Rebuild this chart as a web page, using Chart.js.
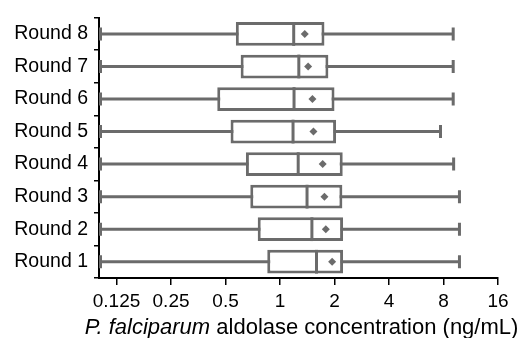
<!DOCTYPE html>
<html>
<head>
<meta charset="utf-8">
<script src="https://cdn.jsdelivr.net/npm/chart.js@4/dist/chart.umd.min.js"></script>
<style>
  body { margin: 0; background: #fff; }
  #box { width: 524px; height: 338px; }
</style>
</head>
<body>
<div id="box"><canvas id="MyChart" width="524" height="338"></canvas></div>
<script>
// data (ng/mL)
const rounds = ["Round 1", "Round 2", "Round 3", "Round 4", "Round 5", "Round 6", "Round 7", "Round 8"];
const mins = [0.1, 0.1, 0.1, 0.1, 0.1, 0.1, 0.1, 0.1];
const q1s = [0.85, 0.753, 0.685, 0.648, 0.533, 0.45, 0.606, 0.57];
const medians = [1.59, 1.5, 1.41, 1.26, 1.18, 1.195, 1.27, 1.19];
const q3s = [2.23, 2.23, 2.21, 2.22, 2.04, 2.0, 1.85, 1.76];
const maxs = [9.8, 9.8, 9.8, 9.1, 7.7, 9.05, 9.05, 9.05];
const means = [1.94, 1.79, 1.76, 1.72, 1.53, 1.51, 1.43, 1.37];
const xTicks = [0.125, 0.25, 0.5, 1, 2, 4, 8, 16];

const GREY = "#6b6b6b";
const FONT = "'Liberation Sans', Arial, sans-serif";

// whiskers under the boxes, median + mean on top
const boxPlugin = {
  id: "boxParts",
  beforeDatasetsDraw(chart) {
    const ctx = chart.ctx;
    const xs = chart.scales.x, ys = chart.scales.y;
    ctx.save();
    ctx.strokeStyle = GREY;
    ctx.lineWidth = 3;
    for (let i = 0; i < rounds.length; i++) {
      const y = ys.getPixelForValue(i);
      const a = xs.getPixelForValue(mins[i]);
      const b = xs.getPixelForValue(maxs[i]);
      ctx.beginPath();
      ctx.moveTo(a, y); ctx.lineTo(b, y);
      ctx.moveTo(a + 1.5, y - 6.5); ctx.lineTo(a + 1.5, y + 6.5);
      ctx.moveTo(b, y - 6.5); ctx.lineTo(b, y + 6.5);
      ctx.stroke();
    }
    ctx.restore();
  },
  afterDatasetsDraw(chart) {
    const ctx = chart.ctx;
    const xs = chart.scales.x, ys = chart.scales.y;
    const meta = chart.getDatasetMeta(0);
    ctx.save();
    ctx.strokeStyle = GREY;
    ctx.fillStyle = GREY;
    ctx.lineWidth = 3;
    for (let i = 0; i < rounds.length; i++) {
      const bar = meta.data[i];
      const h = bar.height / 2;
      const y = ys.getPixelForValue(i);
      const m = xs.getPixelForValue(medians[i]);
      ctx.beginPath();
      ctx.moveTo(m, y - h); ctx.lineTo(m, y + h);
      ctx.stroke();
      const mx = xs.getPixelForValue(means[i]);
      ctx.beginPath();
      ctx.moveTo(mx, y - 4); ctx.lineTo(mx + 4, y);
      ctx.lineTo(mx, y + 4); ctx.lineTo(mx - 4, y);
      ctx.closePath();
      ctx.fill();
    }
    ctx.restore();
  },
  afterDraw(chart) {
    // x title with italic species name
    const ctx = chart.ctx;
    const area = chart.chartArea;
    ctx.save();
    ctx.fillStyle = "#000";
    ctx.textBaseline = "alphabetic";
    const p1 = "P. falciparum";
    const p2 = " aldolase concentration (ng/mL)";
    ctx.font = "italic 22px " + FONT;
    const w1 = ctx.measureText(p1).width;
    ctx.font = "22px " + FONT;
    const w2 = ctx.measureText(p2).width;
    const cx = (area.left + area.right) / 2 + 3;
    let x = cx - (w1 + w2) / 2;
    ctx.font = "italic 22px " + FONT;
    ctx.fillText(p1, x, 334);
    ctx.font = "22px " + FONT;
    ctx.fillText(p2, x + w1, 334);
    ctx.restore();
  }
};

const ctx = document.getElementById("MyChart").getContext("2d");
new Chart(ctx, {
  type: "bar",
  data: {
    labels: rounds,
    datasets: [{
      data: rounds.map((r, i) => [q1s[i], q3s[i]]),
      backgroundColor: "#ffffff",
      borderColor: GREY,
      borderWidth: 3,
      borderSkipped: false,
      barPercentage: 0.73,
      categoryPercentage: 1
    }]
  },
  options: {
    indexAxis: "y",
    responsive: false,
    animation: false,
    devicePixelRatio: 1,
    layout: { padding: { top: 13, right: 26, left: 0, bottom: 0 } },
    plugins: { legend: { display: false }, tooltip: { enabled: false } },
    scales: {
      x: {
        type: "logarithmic",
        min: 0.1,
        max: 16,
        afterBuildTicks(scale) {
          scale.ticks = xTicks.map(v => ({ value: v }));
        },
        afterFit(scale) { scale.height = 60; },
        grid: { drawOnChartArea: false, drawTicks: true, tickLength: 7, color: "#000", lineWidth: 1.5 },
        border: { display: true, color: "#000", width: 2 },
        ticks: {
          autoSkip: false,
          maxRotation: 0,
          padding: 5,
          color: "#000",
          font: { family: FONT, size: 19 },
          callback: (v) => String(v)
        }
      },
      y: {
        reverse: true,
        afterFit(scale) { scale.width = 99; },
        grid: { drawOnChartArea: false, drawTicks: true, tickLength: 5, color: "#000", lineWidth: 1.5 },
        border: { display: true, color: "#000", width: 2 },
        ticks: {
          padding: 6,
          color: "#000",
          font: { family: FONT, size: 19.5 }
        }
      }
    }
  },
  plugins: [boxPlugin]
});
</script>
</body>
</html>
